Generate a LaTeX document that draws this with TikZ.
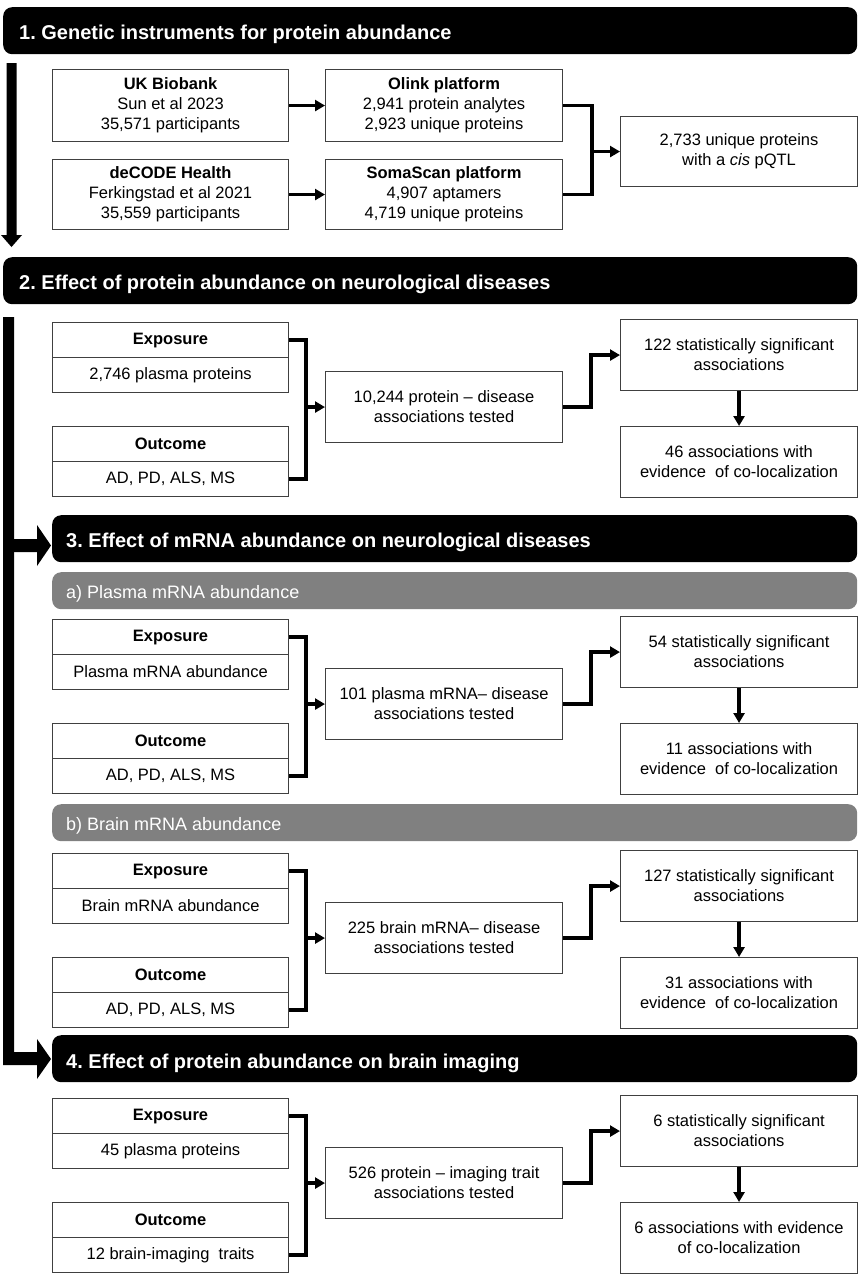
\documentclass[tikz,border=0pt]{standalone}
\usepackage{fontspec}
\setmainfont{Liberation Sans}
\usetikzlibrary{arrows.meta}
\frenchspacing
\newcommand\bodyfont{\fontsize{16.5}{20}\selectfont}
\newcommand\hdrfont{\fontsize{20}{24}\selectfont\bfseries}
\newcommand\subfont{\fontsize{18}{22}\selectfont}
\tikzset{
  box/.style={draw=black!75, line width=1.1pt, fill=white, align=center, inner sep=0pt, font=\bodyfont, anchor=north west},
  hdr/.style={fill=black, rounded corners=9pt, anchor=north west, inner sep=0pt, minimum height=47},
  subhdr/.style={fill=black!50, rounded corners=9pt, anchor=north west, inner sep=0pt, minimum height=37, minimum width=805},
  hdrtext/.style={anchor=base west, text=white, font=\hdrfont, inner sep=0pt},
  subtext/.style={anchor=base west, text=white, font=\subfont, inner sep=0pt},
  conn/.style={line width=3.5pt, -{Triangle[length=10pt,width=11pt]}},
  bracket/.style={line width=3.5pt},
}
\newcommand\panel[7]{%
  \node[box, minimum width=236, minimum height=35] (#1e1) at (52,#2) {\textbf{Exposure}};
  \node[box, minimum width=236, minimum height=35] (#1e2) at (52,#2+35) {#3};
  \node[box, minimum width=236, minimum height=35] (#1o1) at (52,#2+104) {\textbf{Outcome}};
  \node[box, minimum width=236, minimum height=35] (#1o2) at (52,#2+139) {#4};
  \node[box, minimum width=237, minimum height=71] (#1mid) at (325,#2+49) {#5};
  \node[box, minimum width=237, minimum height=71] (#1rt) at (620,#2-3) {#6};
  \node[box, minimum width=237, minimum height=71] (#1rb) at (620,#2+104) {#7};
  \coordinate (#1j) at (306,#2);
  \coordinate (#1k) at (591,#2);
  \draw[bracket] (#1e1.east) -- (#1e1.east -| #1j) -- (#1o2.east -| #1j) -- (#1o2.east);
  \draw[conn] (#1mid.west -| #1j) -- (#1mid.west);
  \draw[conn] (#1mid.east) -- (#1mid.east -| #1k) |- (#1rt.west);
  \draw[conn] (#1rt.south) -- (#1rb.north);
}
\begin{document}
\begin{tikzpicture}[x=1pt, y=-1pt]
\useasboundingbox[fill=white] (0,0) rectangle (861,1280);

% ---- headers
\node[hdr, minimum width=854] (h1) at (3,7) {};
\node[hdrtext] (h1t) at ([xshift=16pt,yshift=-32.5pt]h1.north west) {1. Genetic instruments for protein abundance};
\node[hdr, minimum width=854] (h2) at (3,257) {};
\node[hdrtext] (h2t) at ([xshift=16pt,yshift=-32pt]h2.north west) {2. Effect of protein abundance on neurological diseases};
\node[hdr, minimum width=805] (h3) at (52,515) {};
\node[hdrtext] (h3t) at ([xshift=14pt,yshift=-32pt]h3.north west) {3. Effect of mRNA abundance on neurological diseases};
\node[subhdr] (sa) at (52,572) {};
\node[subtext] (sat) at ([xshift=14pt,yshift=-26pt]sa.north west) {a) Plasma mRNA abundance};
\node[subhdr] (sb) at (52,804) {};
\node[subtext] (sbt) at ([xshift=14pt,yshift=-26pt]sb.north west) {b) Brain mRNA abundance};
\node[hdr, minimum width=805] (h4) at (52,1035) {};
\node[hdrtext] (h4t) at ([xshift=14pt,yshift=-33pt]h4.north west) {4. Effect of protein abundance on brain imaging};

% ---- big left arrows
\fill (6.5,63) -- (16.5,63) -- (16.5,235) -- (22,235) -- (11.5,247) -- (1,235) -- (6.5,235) -- cycle;
\fill (3,317) -- (14,317) -- (14,1052) -- (37,1052) -- (37,1039) -- (51,1059) -- (37,1079) -- (37,1065) -- (3,1065) -- cycle;
\fill (14,539) -- (37,539) -- (37,525) -- (51,545.5) -- (37,566) -- (37,552) -- (14,552) -- cycle;

% ---- section 1
\node[box, minimum width=236, minimum height=72] (uk) at (52,69) {\textbf{UK Biobank}\\Sun et al 2023\\35,571 participants};
\node[box, minimum width=236, minimum height=70] (dec) at (52,159) {\textbf{deCODE Health}\\Ferkingstad et al 2021\\35,559 participants};
\node[box, minimum width=237, minimum height=72] (olink) at (325,69) {\textbf{Olink platform}\\2,941 protein analytes\\2,923 unique proteins};
\node[box, minimum width=237, minimum height=70] (soma) at (325,159) {\textbf{SomaScan platform}\\4,907 aptamers\\4,719 unique proteins};
\node[box, minimum width=237, minimum height=70] (res) at (620,116) {2,733 unique proteins\\with a \textit{cis} pQTL};
\draw[conn] (uk.east) -- (olink.west);
\draw[conn] (dec.east) -- (soma.west);
\coordinate (j1) at (592,0);
\draw[bracket] (olink.east) -- (olink.east -| j1) -- (soma.east -| j1) -- (soma.east);
\draw[conn] (res.west -| j1) -- (res.west);

% ---- panels
\panel{p}{322}{2,746 plasma proteins}{AD, PD, ALS, MS}{10,244 protein -- disease\\associations tested}{122 statistically significant\\associations}{46 associations with\\evidence~ of co-localization}
\panel{a}{619}{Plasma mRNA abundance}{AD, PD, ALS, MS}{101 plasma mRNA-- disease\\associations tested}{54 statistically significant\\associations}{11 associations with\\evidence~ of co-localization}
\panel{b}{853}{Brain mRNA abundance}{AD, PD, ALS, MS}{225 brain mRNA-- disease\\associations tested}{127 statistically significant\\associations}{31 associations with\\evidence~ of co-localization}
\panel{i}{1098}{45 plasma proteins}{12 brain-imaging~ traits}{526 protein -- imaging trait\\associations tested}{6 statistically significant\\associations}{6 associations with evidence\\of co-localization}
\end{tikzpicture}
\end{document}
